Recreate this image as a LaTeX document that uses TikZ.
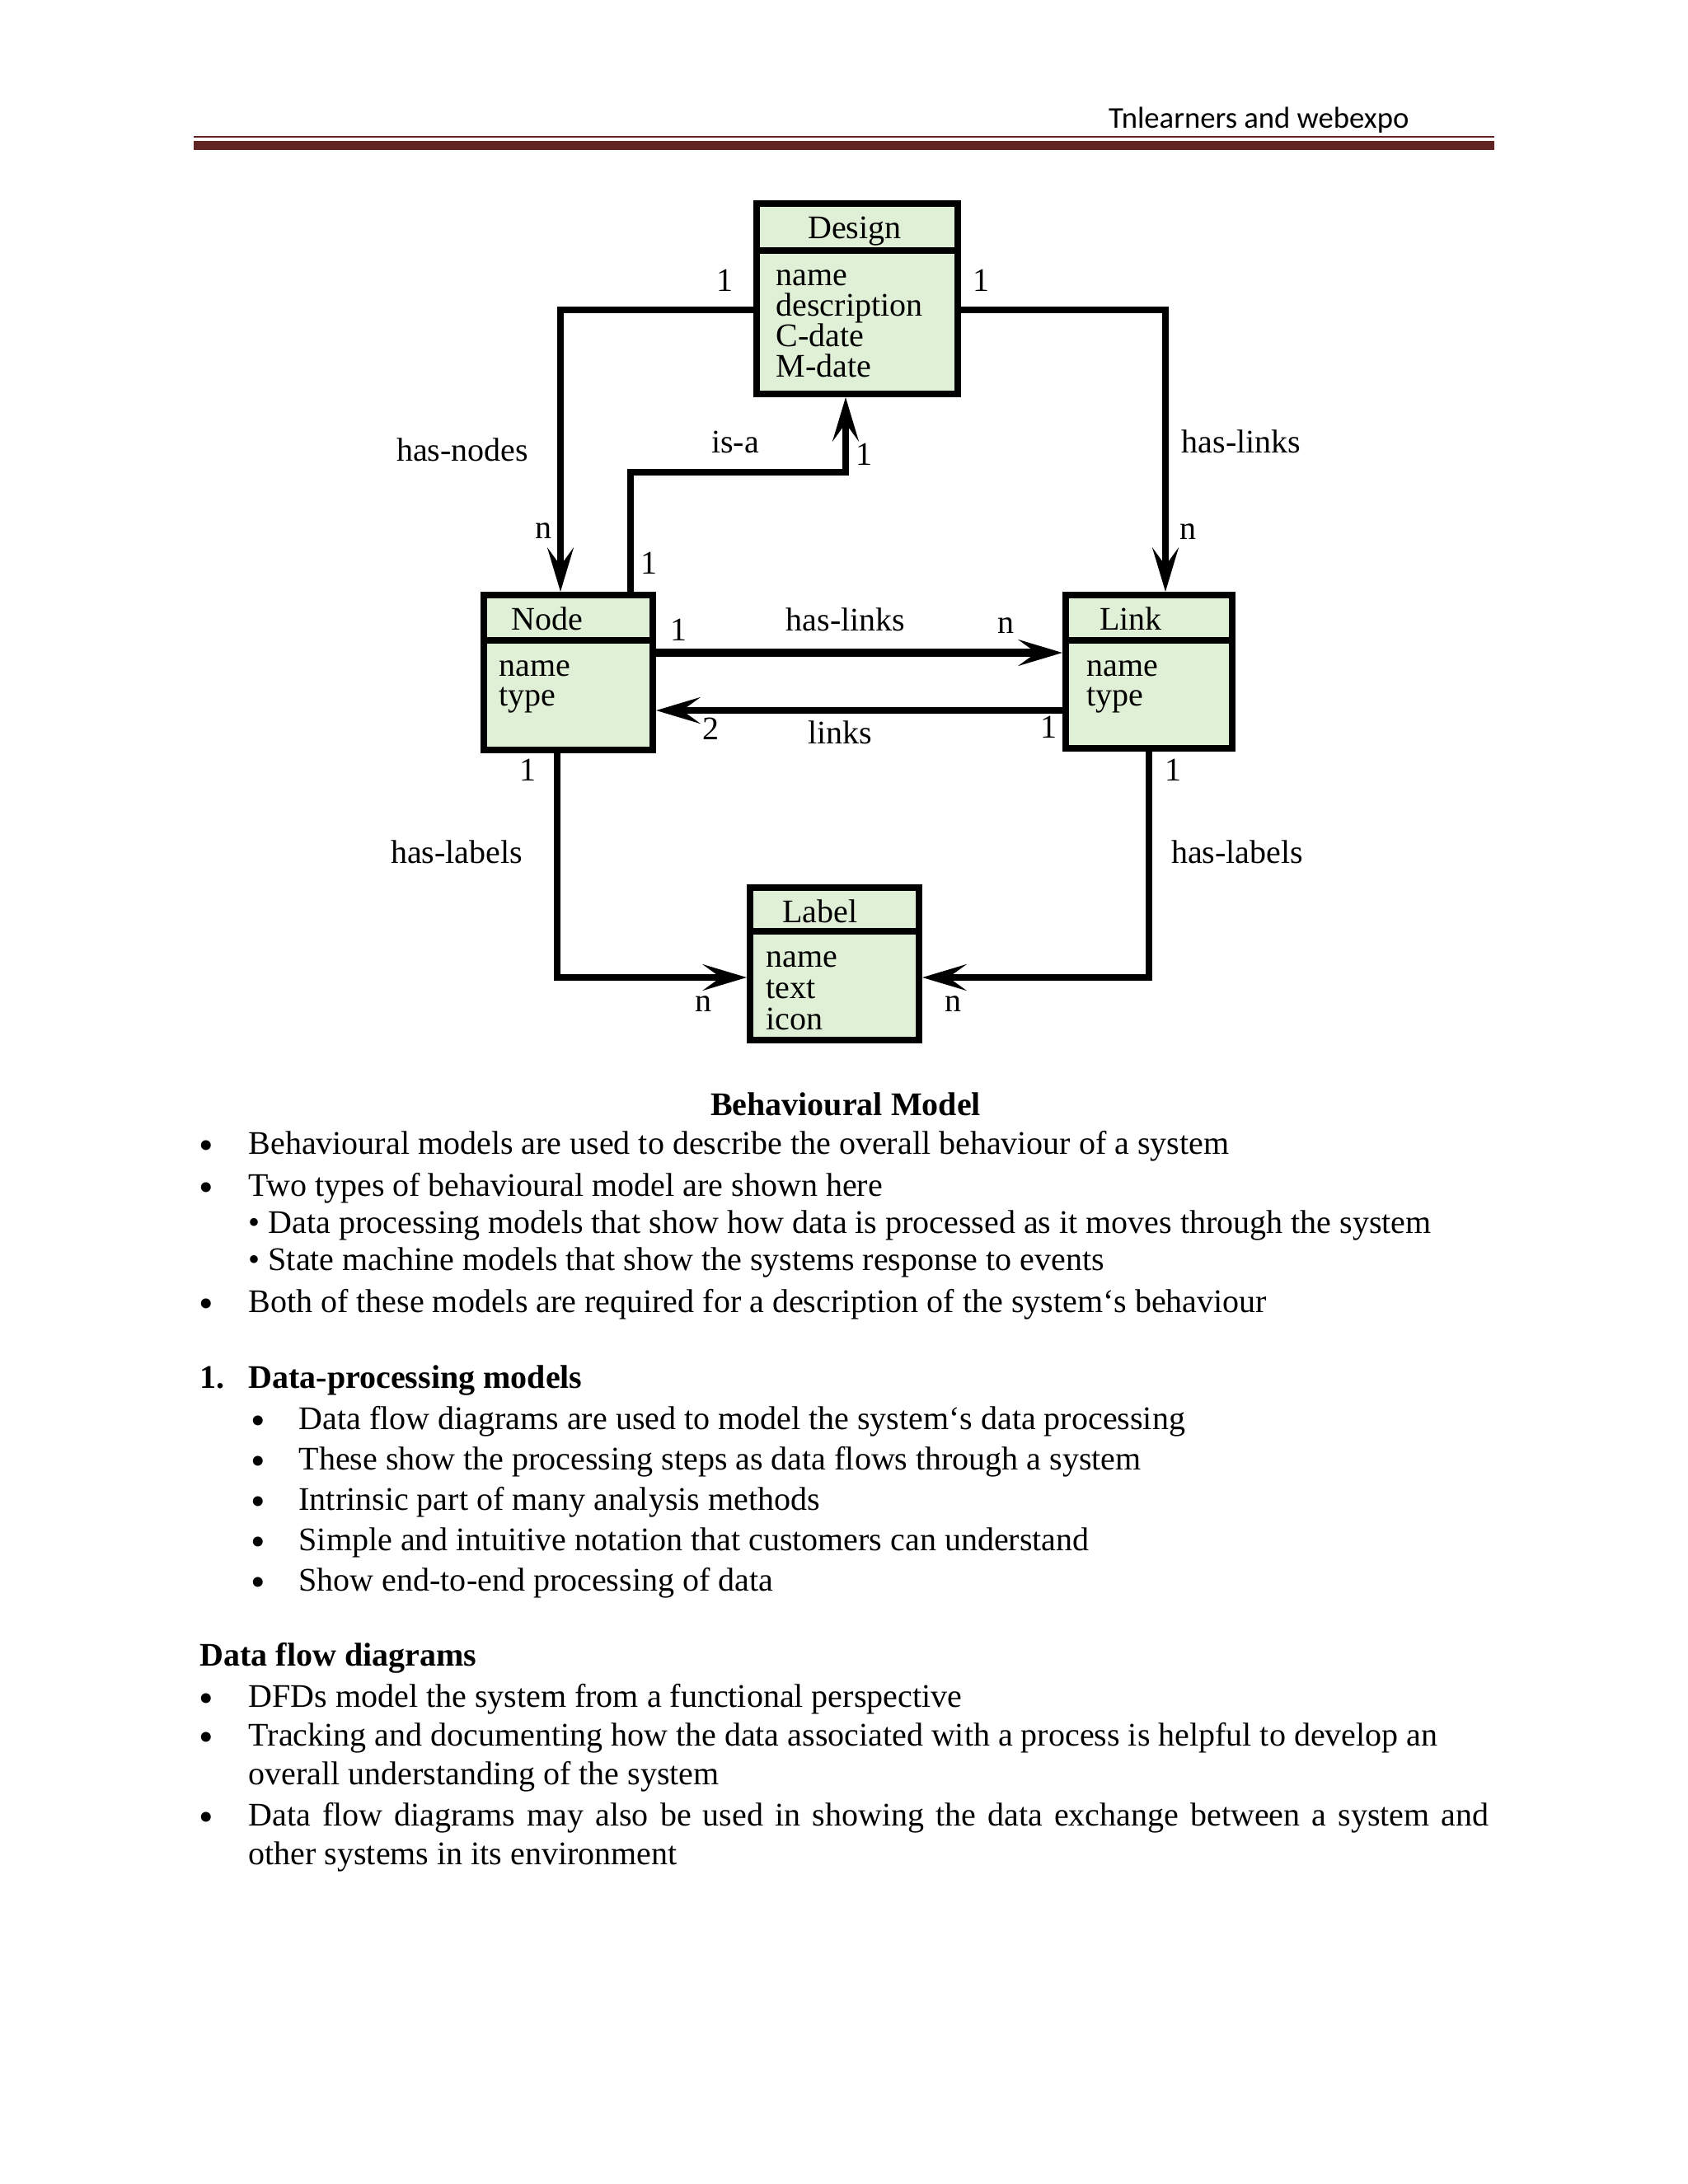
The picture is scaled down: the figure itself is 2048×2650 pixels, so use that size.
\documentclass[tikz,border=0pt]{standalone}
\usepackage{fontspec}
\setmainfont{Liberation Serif}
\newfontfamily\hdrfont{Carlito}
\usetikzlibrary{arrows.meta, positioning}

\definecolor{hdrred}{HTML}{622423}
\definecolor{clsgreen}{HTML}{DFF0D6}

\begin{document}
\begin{tikzpicture}[
    x=0.010542cm, y=-0.010542cm,
    cls/.style={rectangle, draw, line width=2.4pt, fill=clsgreen, inner sep=0pt},
    sep/.style={line width=2.4pt},
    ttl/.style={anchor=base, inner sep=0pt, font=\fontsize{12}{14}\selectfont},
    attr/.style={anchor=base west, inner sep=0pt, font=\fontsize{12}{14}\selectfont},
    rel/.style={inner sep=0pt, font=\fontsize{12}{14}\selectfont},
    conn/.style={line width=2.25pt, -{Stealth[length=16pt, width=9.5pt, inset=6.5pt]}},
    body/.style={anchor=base west, inner sep=0pt, font=\fontsize{12}{14}\selectfont},
    dot/.style={anchor=base, inner sep=0pt, yshift=-2pt, font=\fontsize{15}{15}\selectfont}
  ]
    \useasboundingbox (0,0) rectangle (2048,2650);

    % header
    \node[anchor=base east, inner sep=0pt, font=\hdrfont\fontsize{11}{13}\selectfont] (hdr) at (1710,155) {Tnlearners and webexpo};
    \draw[hdrred, line width=0.75pt] (235,166) -- (1813,166);
    \draw[hdrred, line width=3.3pt] (235,176.5) -- (1813,176.5);

    % classes
    \node[cls, minimum width=2.572cm, minimum height=2.435cm] (design) at (1040,362.5) {};
    \node[cls, minimum width=2.161cm, minimum height=1.982cm] (nodecls) at (689.5,816) {};
    \node[cls, minimum width=2.129cm, minimum height=1.961cm] (linkcls) at (1394,815) {};
    \node[cls, minimum width=2.161cm, minimum height=1.950cm] (labelcls) at (1012.5,1169.5) {};
    \draw[sep] (design.west |- 0,304) -- (design.east |- 0,304);
    \draw[sep] (nodecls.west |- 0,777) -- (nodecls.east |- 0,777);
    \draw[sep] (linkcls.west |- 0,777) -- (linkcls.east |- 0,777);
    \draw[sep] (labelcls.west |- 0,1130) -- (labelcls.east |- 0,1130);

    \node[ttl] (design-t) at (1037,289) {Design};
    \node[ttl] (nodecls-t) at (664,764) {Node};
    \node[ttl] (linkcls-t) at (1372,764) {Link};
    \node[ttl] (labelcls-t) at (995,1119) {Label};

    \foreach \t [count=\i] in {name,description,C-date,M-date}
      \node[attr] (design-\i) at (941,309+\i*37) {\t};
    \foreach \t [count=\i] in {name,type}
      \node[attr] (nodecls-\i) at (605,784+\i*36) {\t};
    \foreach \t [count=\i] in {name,type}
      \node[attr] (linkcls-\i) at (1318,784+\i*36) {\t};
    \foreach \t [count=\i] in {name,text,icon}
      \node[attr] (labelcls-\i) at (929,1135+\i*38) {\t};

    % associations
    \draw[conn] (design.west |- 0,376) -| (nodecls.north -| 680,0);
    \draw[conn] (design.east |- 0,376) -| (linkcls.north -| 1414,0);
    \draw[conn] (nodecls.north -| 765,0) |- (1026,573) -- (design.south -| 1026,0);
    \draw[conn, line width=3pt] (nodecls.east |- 0,792) -- (linkcls.west |- 0,792);
    \draw[conn, line width=2.4pt] (linkcls.west |- 0,862) -- (nodecls.east |- 0,862);
    \draw[conn] (nodecls.south -| 676,0) |- (labelcls.west |- 0,1186);
    \draw[conn] (linkcls.south) |- (labelcls.east |- 0,1186);

    \node[rel] (r-hasnodes) at (561,546) {has-nodes};
    \node[rel] (r-haslinks) at (1506,536) {has-links};
    \node[rel] (r-isa) at (892,536) {is-a};
    \node[rel] (r-haslinks2) at (1026,752) {has-links};
    \node[rel] (r-links) at (1019,889) {links};
    \node[rel] (r-haslabels) at (554,1034) {has-labels};
    \node[rel] (r-haslabels2) at (1501,1034) {has-labels};

    \node[rel] (m1) at (879,340) {1};
    \node[rel] (m2) at (1190,340) {1};
    \node[rel] (m3) at (659,644) {n};
    \node[rel] (m4) at (1441,645) {n};
    \node[rel] (m5) at (1048,551) {1};
    \node[rel] (m6) at (787,683) {1};
    \node[rel] (m7) at (823,764) {1};
    \node[rel] (m8) at (1220,759) {n};
    \node[rel] (m9) at (862,884) {2};
    \node[rel] (m10) at (1272,882) {1};
    \node[rel] (m11) at (640,934) {1};
    \node[rel] (m12) at (1423,934) {1};
    \node[rel] (m13) at (853,1218) {n};
    \node[rel] (m14) at (1156,1218) {n};

    % text below the figure
    \node[anchor=base, inner sep=0pt, font=\bfseries\fontsize{12}{14}\selectfont] (cap) at (1026,1353) {Behavioural Model};

    \node[dot] (b1) at (250,1400) {\smash{•}};
    \node[body] (t1) at (301,1400) {Behavioural models are used to describe the overall behaviour of a system};
    \node[dot] (b2) at (250,1451) {\smash{•}};
    \node[body] (t2) at (301,1451) {Two types of behavioural model are shown here};
    \node[body] (t3) at (301,1496) {• Data processing models that show how data is processed as it moves through the system};
    \node[body] (t4) at (301,1541) {• State machine models that show the systems response to events};
    \node[dot] (b5) at (250,1592) {\smash{•}};
    \node[body] (t5) at (301,1592) {Both of these models are required for a description of the system‘s behaviour};

    \node[body, font=\bfseries\fontsize{12}{14}\selectfont] (h1n) at (242,1684) {1.};
    \node[body, font=\bfseries\fontsize{12}{14}\selectfont] (h1) at (301,1684) {Data-processing models};
    \foreach \t [count=\i] in {Data flow diagrams are used to model the system‘s data processing,
        These show the processing steps as data flows through a system,
        Intrinsic part of many analysis methods,
        Simple and intuitive notation that customers can understand,
        Show end-to-end processing of data} {
      \node[dot] (sb\i) at (313,1685+\i*49) {\smash{•}};
      \node[body] (st\i) at (362,1685+\i*49) {\t};
    }

    \node[body, font=\bfseries\fontsize{12}{14}\selectfont] (h2) at (242,2021) {Data flow diagrams};
    \node[dot] (b6) at (250,2071) {\smash{•}};
    \node[body] (t6) at (301,2071) {DFDs model the system from a functional perspective};
    \node[dot] (b7) at (250,2118) {\smash{•}};
    \node[body] (t7) at (301,2118) {Tracking and documenting how the data associated with a process is helpful to develop an};
    \node[body] (t7b) at (301,2165) {overall understanding of the system};
    \node[dot] (b8) at (250,2215) {\smash{•}};
    \node[body] (t8) at (301,2215) {\makebox[15.866cm][s]{Data flow diagrams may also be used in showing the data exchange between a system and}};
    \node[body] (t8b) at (301,2262) {other systems in its environment};
  \end{tikzpicture}
\end{document}
